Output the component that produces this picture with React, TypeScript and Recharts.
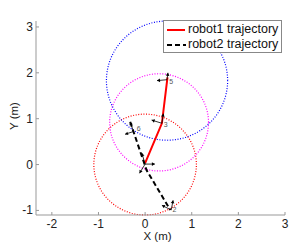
import React from 'react';
import { ComposedChart, Line, XAxis, YAxis, Scatter } from 'recharts';

const xTicks = [-2, -1, 0, 1, 2, 3];
const yTicks = [-1, 0, 1, 2, 3];

const robot1X = [0.0, 0.36, 0.48];
const robot1Y = [0.03, 0.9, 1.9];
const robot2X = [-0.32, 0.03, 0.54];
const robot2Y = [0.93, -0.12, -0.99];

const circleCx = [0.0, 0.3, 0.47];
const circleCy = [0.0, 0.92, 1.83];
const circleR = [1.1, 1.06, 1.3];

const arrowFromX = [0.47, 0.47, 0.36, 0.36, -0.25, -0.25, 0.0, 0.0, 0.0, 0.56, 0.56];
const arrowFromY = [1.85, 1.85, 0.9, 0.9, 0.72, 0.72, 0.01, 0.01, 0.01, -0.99, -0.99];
const arrowToX = [0.255, 0.49, 0.14, 0.39, -0.43, -0.32, 0.21, -0.12, -0.07, 0.6, 0.36];
const arrowToY = [1.83, 2.0, 0.97, 1.11, 0.66, 0.93, 0.01, -0.19, 0.25, -0.78, -0.89];

const poseLabels = ['5', '3', '6', '2'];
const poseLabelX = [0.52, 0.4, -0.18, 0.59];
const poseLabelY = [1.76, 0.82, 0.73, -1.03];

const circleColors = ['#ff0000', '#ff00ff', '#0000ff'];

const robot1 = robot1X.map((x, i) => ({ x, y: robot1Y[i] }));
const robot2 = robot2X.map((x, i) => ({ x, y: robot2Y[i] }));
const circles = circleCx.map((cx, c) => {
  const pts: { x: number; y: number }[] = [];
  for (let k = 0; k <= 120; k++) {
    const a = (2 * Math.PI * k) / 120;
    pts.push({ x: cx + circleR[c] * Math.cos(a), y: circleCy[c] + circleR[c] * Math.sin(a) });
  }
  return pts;
});
const arrows = arrowFromX.map((fx, i) => [
  { x: fx, y: arrowFromY[i] },
  { x: arrowToX[i], y: arrowToY[i] },
]);
const labels = poseLabels.map((label, i) => ({ x: poseLabelX[i], y: poseLabelY[i], label }));

const FONT = 'Liberation Sans, Arial, sans-serif';

const XTick = (props: any) => {
  const { x, y, payload } = props;
  return (
    <g>
      <line x1={x} y1={y} x2={x} y2={y - 3} stroke="#999" />
      <text x={x} y={y + 13} textAnchor="middle" fontSize={12} fill="#222" fontFamily={FONT}>
        {payload.value}
      </text>
    </g>
  );
};

const YTick = (props: any) => {
  const { x, y, payload } = props;
  return (
    <g>
      <line x1={x} y1={y} x2={x + 3} y2={y} stroke="#999" />
      <text x={x - 3} y={y + 4} textAnchor="end" fontSize={12} fill="#222" fontFamily={FONT}>
        {payload.value}
      </text>
    </g>
  );
};

const makeArrowDot = (i: number) => (props: any) => {
  const { cx, cy, index } = props;
  if (index !== 1 || cx == null) return <g key={`d${i}-${index}`} />;
  const dx = arrowToX[i] - arrowFromX[i];
  const dy = -(arrowToY[i] - arrowFromY[i]);
  const len = Math.sqrt(dx * dx + dy * dy) || 1;
  const ux = dx / len;
  const uy = dy / len;
  const s = 3;
  const bx = cx - ux * s;
  const by = cy - uy * s;
  const px = -uy * s * 0.6;
  const py = ux * s * 0.6;
  return (
    <path
      key={`d${i}-${index}`}
      d={`M${cx},${cy} L${bx + px},${by + py} L${bx - px},${by - py} Z`}
      fill="#000"
      stroke="none"
    />
  );
};

const LabelShape = (props: any) => {
  const { cx, cy, payload } = props;
  return (
    <text x={cx} y={cy} fontSize={7} fill="#555" fontFamily={FONT}>
      {payload.label}
    </text>
  );
};

export default function App() {
  return (
    <div style={{ position: 'absolute', left: 0, top: 0, width: 300, height: 242, background: '#fff' }}>
      <style>{`.recharts-wrapper [clip-path]{clip-path:none !important;} .recharts-surface{overflow:visible;}`}</style>
      <ComposedChart width={300} height={242} margin={{ top: 21, right: 15, left: 0, bottom: 0 }}>
        <XAxis
          type="number"
          dataKey="x"
          domain={[() => -2.34, () => 3]}
          ticks={xTicks}
          height={27}
          tickSize={0}
          tickMargin={0}
          tickLine={false}
          axisLine={{ stroke: '#999' }}
          tick={<XTick />}
          interval={0}
        />
        <YAxis
          type="number"
          dataKey="y"
          domain={[() => -1.1, () => 3.05]}
          ticks={yTicks}
          width={36}
          tickSize={0}
          tickMargin={0}
          tickLine={false}
          axisLine={{ stroke: '#999' }}
          tick={<YTick />}
          interval={0}
        />
        {circles.map((pts, c) => (
          <Line
            key={`c${c}`}
            data={pts}
            dataKey="y"
            type="linear"
            stroke={circleColors[c]}
            strokeWidth={1.2}
            strokeDasharray="1 1.6"
            dot={false}
            activeDot={false}
            isAnimationActive={false}
          />
        ))}
        <Line
          data={robot1}
          dataKey="y"
          type="linear"
          stroke="#ff0000"
          strokeWidth={2}
          dot={false}
          activeDot={false}
          isAnimationActive={false}
        />
        <Line
          data={robot2}
          dataKey="y"
          type="linear"
          stroke="#000"
          strokeWidth={2}
          strokeDasharray="5 3"
          dot={false}
          activeDot={false}
          isAnimationActive={false}
        />
        {arrows.map((pts, i) => (
          <Line
            key={`a${i}`}
            data={pts}
            dataKey="y"
            type="linear"
            stroke="#000"
            strokeWidth={0.8}
            dot={makeArrowDot(i)}
            activeDot={false}
            isAnimationActive={false}
          />
        ))}
        <Scatter data={labels} dataKey="y" shape={<LabelShape />} isAnimationActive={false} />
        <text x={157.5} y={240} textAnchor="middle" fontSize={11.5} fill="#222" fontFamily={FONT}>
          X (m)
        </text>
        <text
          x={18}
          y={116}
          textAnchor="middle"
          fontSize={11.5}
          fill="#222"
          fontFamily={FONT}
          transform="rotate(-90 18 116)"
        >
          Y (m)
        </text>
      </ComposedChart>
      <div
        style={{
          position: 'absolute',
          left: 163,
          top: 20,
          width: 117,
          height: 31,
          border: '1px solid #888',
          background: '#fff',
          fontFamily: FONT,
          fontSize: 12.5,
          color: '#111',
          lineHeight: '15px',
        }}
      >
        <div style={{ display: 'flex', alignItems: 'center', height: 15, marginTop: 1 }}>
          <svg width={24} height={15} style={{ flex: 'none' }}>
            <line x1={3} y1={8} x2={21} y2={8} stroke="#ff0000" strokeWidth={2} />
          </svg>
          <span>robot1 trajectory</span>
        </div>
        <div style={{ display: 'flex', alignItems: 'center', height: 15 }}>
          <svg width={24} height={15} style={{ flex: 'none' }}>
            <line x1={3} y1={8} x2={22} y2={8} stroke="#000" strokeWidth={2} strokeDasharray="5 3" />
          </svg>
          <span>robot2 trajectory</span>
        </div>
      </div>
    </div>
  );
}
